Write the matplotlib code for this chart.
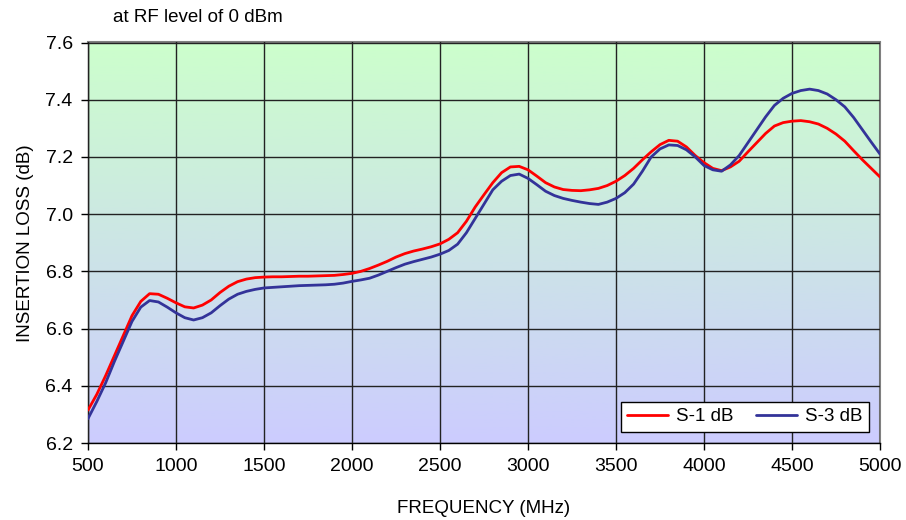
import matplotlib
matplotlib.use("Agg")
import matplotlib.pyplot as plt
import numpy as np
from matplotlib.colors import LinearSegmentedColormap

plt.rcParams['font.family'] = ['Liberation Sans', 'DejaVu Sans']

freq = [500, 550, 600, 650, 700, 750, 800, 850, 900, 950,
        1000, 1050, 1100, 1150, 1200, 1250, 1300, 1350, 1400, 1450,
        1500, 1550, 1600, 1650, 1700, 1750, 1800, 1850, 1900, 1950,
        2000, 2050, 2100, 2150, 2200, 2250, 2300, 2350, 2400, 2450,
        2500, 2550, 2600, 2650, 2700, 2750, 2800, 2850, 2900, 2950,
        3000, 3050, 3100, 3150, 3200, 3250, 3300, 3350, 3400, 3450,
        3500, 3550, 3600, 3650, 3700, 3750, 3800, 3850, 3900, 3950,
        4000, 4050, 4100, 4150, 4200, 4250, 4300, 4350, 4400, 4450,
        4500, 4550, 4600, 4650, 4700, 4750, 4800, 4850, 4900, 4950, 5000]

s1_db = [6.315, 6.370, 6.435, 6.505, 6.575, 6.645, 6.695, 6.722, 6.720, 6.706,
         6.690, 6.676, 6.672, 6.682, 6.700, 6.726, 6.748, 6.764, 6.773, 6.778,
         6.780, 6.781, 6.781, 6.782, 6.783, 6.783, 6.784, 6.785, 6.786, 6.789,
         6.793, 6.800, 6.810, 6.822, 6.835, 6.850, 6.862, 6.871, 6.878, 6.886,
         6.896, 6.912, 6.935, 6.975, 7.025, 7.068, 7.110, 7.145, 7.165, 7.167,
         7.155, 7.133, 7.110, 7.095, 7.086, 7.083, 7.082, 7.085, 7.090, 7.100,
         7.115, 7.135, 7.160, 7.190, 7.218, 7.243, 7.258, 7.255, 7.235, 7.205,
         7.180, 7.160, 7.152, 7.165, 7.185, 7.218, 7.250, 7.282, 7.308, 7.320,
         7.325, 7.327, 7.323, 7.315, 7.300, 7.280, 7.255, 7.222, 7.190, 7.160, 7.130]

s3_db = [6.285, 6.345, 6.410, 6.485, 6.555, 6.625, 6.675, 6.698, 6.693, 6.675,
         6.655, 6.638, 6.630, 6.638, 6.655, 6.680, 6.703, 6.720, 6.730, 6.737,
         6.742, 6.744, 6.746, 6.748, 6.750, 6.751, 6.752, 6.753, 6.755, 6.759,
         6.765, 6.770, 6.776, 6.787, 6.800, 6.813, 6.825, 6.834, 6.842, 6.850,
         6.860, 6.873, 6.895, 6.935, 6.985, 7.035, 7.085, 7.115, 7.135, 7.140,
         7.125, 7.103, 7.080, 7.065, 7.055, 7.048, 7.042, 7.037, 7.034, 7.042,
         7.055, 7.075, 7.105, 7.150, 7.200, 7.228, 7.242, 7.240, 7.225, 7.200,
         7.170, 7.155, 7.150, 7.172, 7.205, 7.250, 7.295, 7.340, 7.380, 7.405,
         7.422, 7.432, 7.437, 7.432, 7.420, 7.400, 7.375, 7.338, 7.295, 7.252, 7.210]

x_ticks = [500, 1000, 1500, 2000, 2500, 3000, 3500, 4000, 4500, 5000]
y_ticks = [6.2, 6.4, 6.6, 6.8, 7.0, 7.2, 7.4, 7.6]

fig = plt.figure(figsize=(9.06, 5.2), dpi=100)
ax = fig.add_axes([88/906, 1 - 443/520, (880-88)/906, (443-42.5)/520])

# gradient background
cmap = LinearSegmentedColormap.from_list('bg', ['#ccccff', '#ccffcc'])
grad = np.linspace(0, 1, 256).reshape(-1, 1)
ax.imshow(grad, aspect='auto', cmap=cmap, origin='lower',
          extent=[500, 5000, 6.2, 7.6], zorder=0)

ax.set_xlim(500, 5000)
ax.set_ylim(6.2, 7.6)
ax.set_xticks(x_ticks)
ax.set_yticks(y_ticks)
ax.set_yticklabels([f"{v:.1f}" for v in y_ticks])
ax.grid(True, color='#222222', linewidth=1.0, zorder=1)
ax.set_axisbelow(False)

ax.plot(freq, s1_db, color='#ff0000', lw=2.0, label='S-1 dB', zorder=3,
        solid_joinstyle='round', solid_capstyle='round')
ax.plot(freq, s3_db, color='#333399', lw=2.0, label='S-3 dB', zorder=3,
        solid_joinstyle='round', solid_capstyle='round')

for side in ['left', 'bottom']:
    ax.spines[side].set_color('black')
    ax.spines[side].set_linewidth(1.0)
for side in ['top', 'right']:
    ax.spines[side].set_color('#808080')
    ax.spines[side].set_linewidth(1.5)

ax.tick_params(axis='both', direction='out', length=5, width=1, labelsize=14,
               colors='black', pad=6)

ax.set_xlabel('FREQUENCY (MHz)', fontsize=13.5, labelpad=18)
ax.set_ylabel('INSERTION LOSS (dB)', fontsize=13.5, labelpad=8)

fig.text(113/906, 1 - 17/520, 'at RF level of 0 dBm', fontsize=13.5,
         ha='left', va='center')

leg = ax.legend(loc='lower right', ncol=2, fontsize=13.5, frameon=True,
                fancybox=False, edgecolor='black', framealpha=1,
                borderaxespad=0.6, handlelength=2.2, columnspacing=1.2,
                handletextpad=0.4, borderpad=0.35)
leg.get_frame().set_linewidth(1.0)
leg.set_zorder(5)

fig.savefig('out.png', dpi=100)
